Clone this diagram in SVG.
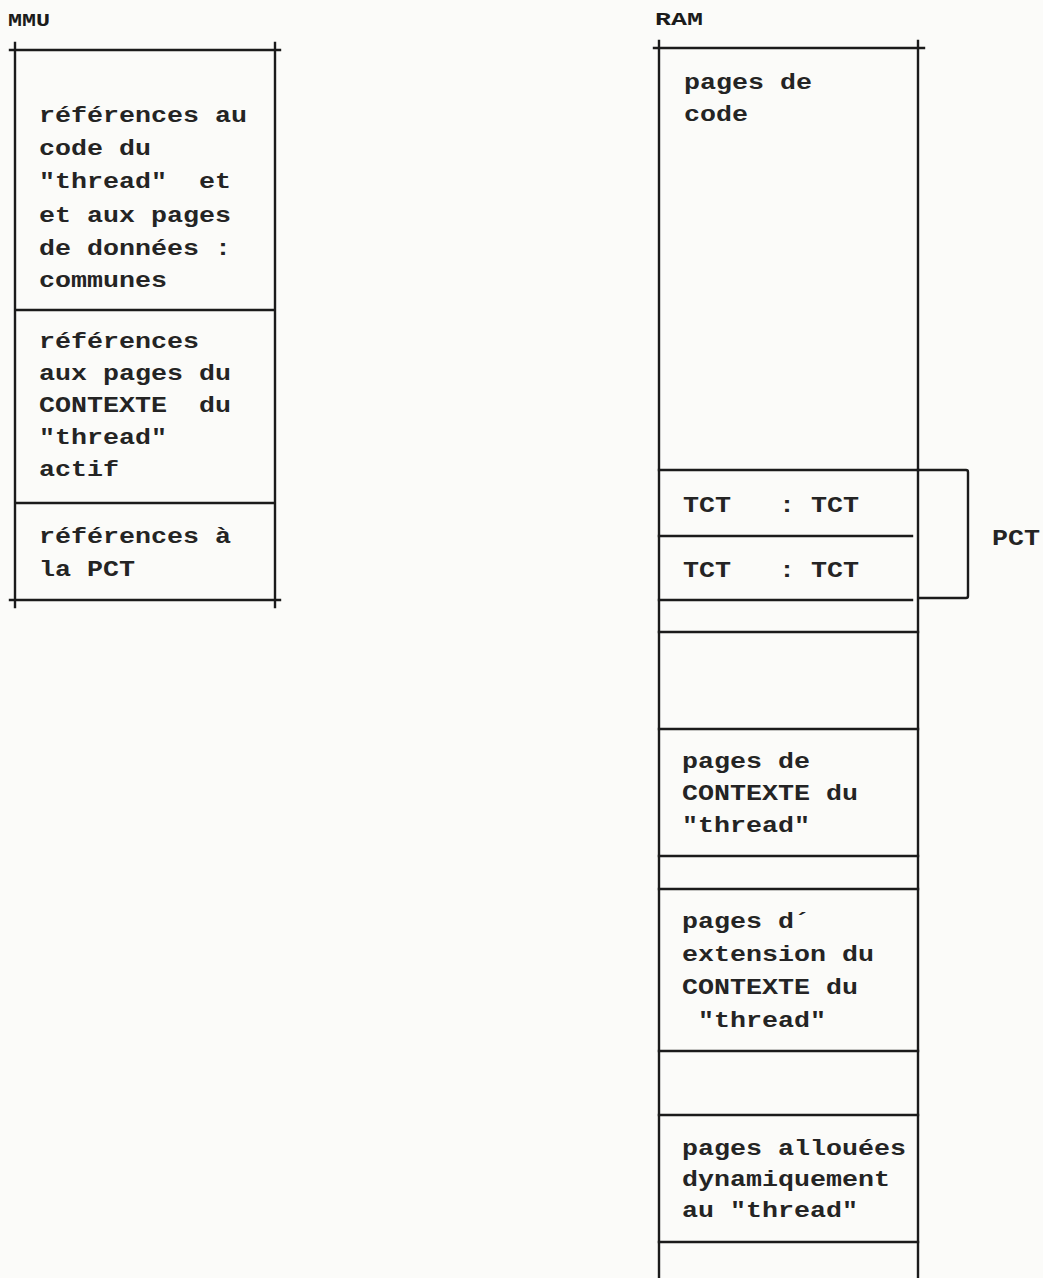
<svg xmlns="http://www.w3.org/2000/svg" width="1043" height="1278" viewBox="0 0 1043 1278">
<style>
  .bg { fill: #fbfbf9; }
  .ln { stroke: #1b1b1b; stroke-width: 2.4; fill: none; stroke-linecap: square; }
  .t text { font-family: "Liberation Mono", "DejaVu Sans Mono", monospace; font-size: 22px; font-weight: bold; fill: #242424; }
  .lbl text { font-family: "Liberation Mono", "DejaVu Sans Mono", monospace; font-weight: bold; fill: #1b1b1b; }
</style>
<rect class="bg" x="0" y="0" width="1043" height="1278"/>

<g id="mmu">
  <g class="lbl" transform="translate(8,0) scale(1.3,1)"><text x="0" y="26" font-size="18">MMU</text></g>
  <path class="ln" d="M10 50 H280 M15 43 V607 M275 43 V607 M10 600 H280 M15 310 H275 M15 503 H275"/>
</g>

<g id="mmu-code">
  <g class="t" transform="translate(39,0) scale(1.212,1)">
    <text x="0" y="122">références au</text>
    <text x="0" y="155">code du</text>
    <text x="0" y="188" xml:space="preserve">"thread"  et</text>
    <text x="0" y="222">et aux pages</text>
    <text x="0" y="255">de données :</text>
    <text x="0" y="287">communes</text>
  </g>
</g>

<g id="mmu-contexte">
  <g class="t" transform="translate(39,0) scale(1.212,1)">
    <text x="0" y="348">références</text>
    <text x="0" y="380">aux pages du</text>
    <text x="0" y="412" xml:space="preserve">CONTEXTE  du</text>
    <text x="0" y="444">"thread"</text>
    <text x="0" y="476">actif</text>
  </g>
</g>

<g id="mmu-pct">
  <g class="t" transform="translate(39,0) scale(1.212,1)">
    <text x="0" y="543">références à</text>
    <text x="0" y="576">la PCT</text>
  </g>
</g>

<g id="ram">
  <g class="lbl" transform="translate(655,0) scale(1.4,1)"><text x="0" y="25" font-size="19">RAM</text></g>
  <path class="ln" d="M654 48 H924 M659 41 V1278 M918 41 V1278"/>
  <path class="ln" d="M659 470 H918 M659 536 H912 M659 600 H912 M659 632 H918 M659 729 H918 M659 856 H918 M659 889 H918 M659 1051 H918 M659 1115 H918 M659 1242 H918"/>
</g>

<g id="ram-code">
  <g class="t" transform="translate(684,0) scale(1.212,1)">
    <text x="0" y="89">pages de</text>
    <text x="0" y="121">code</text>
  </g>
</g>

<g id="tct1">
  <g class="t" transform="translate(683,0) scale(1.212,1)">
    <text x="0" y="512" xml:space="preserve">TCT   : TCT</text>
  </g>
</g>

<g id="tct2">
  <g class="t" transform="translate(683,0) scale(1.212,1)">
    <text x="0" y="577" xml:space="preserve">TCT   : TCT</text>
  </g>
</g>

<g id="ram-contexte">
  <g class="t" transform="translate(682,0) scale(1.212,1)">
    <text x="0" y="768">pages de</text>
    <text x="0" y="800">CONTEXTE du</text>
    <text x="0" y="832">"thread"</text>
  </g>
</g>

<g id="ram-extension">
  <g class="t" transform="translate(682,0) scale(1.212,1)">
    <text x="0" y="928">pages d´</text>
    <text x="0" y="961">extension du</text>
    <text x="0" y="994">CONTEXTE du</text>
    <text x="0" y="1027" xml:space="preserve"> "thread"</text>
  </g>
</g>

<g id="ram-dyn">
  <g class="t" transform="translate(682,0) scale(1.212,1)">
    <text x="0" y="1155">pages allouées</text>
    <text x="0" y="1186">dynamiquement</text>
    <text x="0" y="1217">au "thread"</text>
  </g>
</g>

<g id="pct">
  <g class="t" transform="translate(992,0) scale(1.212,1)">
    <text x="0" y="545">PCT</text>
  </g>
</g>

<g id="connectors">
  <path class="ln" d="M918 470 H966 Q968 470 968 472 V596 Q968 598 966 598 H920"/>
</g>
</svg>
